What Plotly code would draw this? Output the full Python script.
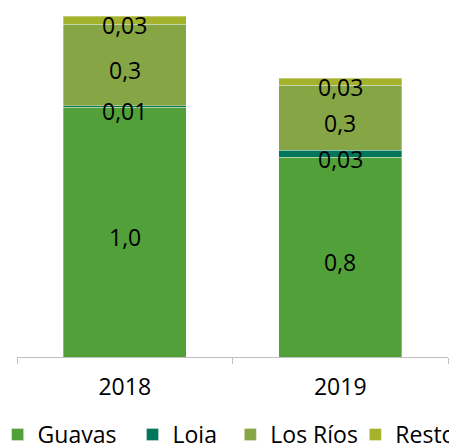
import plotly.graph_objects as go

# ── data ─────────────────────────────────────────────
YEARS = ['2018', '2019']
SERIES = ['Guayas', 'Loja', 'Los Ríos', 'Resto']
GUAYAS = [1.0, 0.8]
LOJA = [0.006, 0.027]
LOS_RIOS = [0.326, 0.26]
RESTO = [0.031, 0.028]
LABELS = {
    'Guayas':   ['1,0', '0,8'],
    'Loja':     ['0,01', '0,03'],
    'Los Ríos': ['0,3', '0,3'],
    'Resto':    ['0,03', '0,03'],
}

COLORS = {
    'Guayas':   '#52A03A',
    'Loja':     '#00765A',
    'Los Ríos': '#86A646',
    'Resto':    '#A5B22C',
}

FONT = 'Century Gothic, Open Sans, sans-serif'

values = {'Guayas': GUAYAS, 'Loja': LOJA, 'Los Ríos': LOS_RIOS, 'Resto': RESTO}

# one legend per entry so the spacing can follow the reference
LEGEND_IDS = ['legend', 'legend2', 'legend3', 'legend4']
LEGEND_X = [-0.045, 0.268, 0.495, 0.785]

fig = go.Figure()

# stacked bars
for name, lid in zip(SERIES, LEGEND_IDS):
    fig.add_trace(go.Bar(
        x=YEARS, y=values[name], name=name,
        marker=dict(color=COLORS[name],
                    line=dict(color='rgba(255,255,255,0.4)', width=0.8)),
        legend=lid,
        hoverinfo='skip',
    ))

# segment labels at mid-height of each segment (x = category index)
base = [0.0] * len(YEARS)
for name in SERIES:
    for i, v in enumerate(values[name]):
        fig.add_annotation(
            x=i, y=base[i] + v / 2, xref='x', yref='y',
            text=LABELS[name][i],
            showarrow=False, yshift=-5,
            font=dict(size=23, color='#000000', family=FONT),
        )
        base[i] += v

legend_common = dict(
    orientation='h', xanchor='left',
    y=-0.1615, yanchor='top',
    font=dict(size=23, family=FONT, color='#000000'),
    bgcolor='rgba(0,0,0,0)',
)

# page body has an 8px margin -> margins compensate for it
fig.update_layout(
    barmode='stack',
    bargap=0.43,
    width=457, height=443,
    margin=dict(l=9, r=17, t=2, b=94, autoexpand=False),
    plot_bgcolor='white', paper_bgcolor='white',
    font=dict(family=FONT, size=23, color='#000000'),
    xaxis=dict(
        type='category',
        range=[-0.5, 1.5],
        showline=True, linecolor='#BFBFBF', linewidth=1,
        ticks='outside', tickson='boundaries', ticklen=6, tickcolor='#BFBFBF',
        ticklabelstandoff=9,
        tickfont=dict(size=23, family=FONT, color='#000000'),
        showgrid=False,
    ),
    yaxis=dict(range=[0, 1.388], visible=False),
    showlegend=True,
)
for lid, lx in zip(LEGEND_IDS, LEGEND_X):
    fig.update_layout({lid: dict(legend_common, x=lx)})

fig.write_html('out.html')
